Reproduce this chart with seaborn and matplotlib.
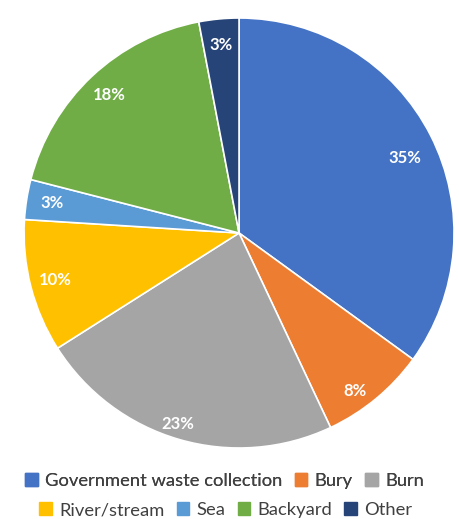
import seaborn as sns
import matplotlib.pyplot as plt
from matplotlib.patches import Patch

categories = ["Government waste collection", "Bury", "Burn", "River/stream", "Sea", "Backyard", "Other"]
values = [35, 8, 23, 10, 3, 18, 3]
colors = ["#4472C4", "#ED7D31", "#A5A5A5", "#FFC000", "#5B9BD5", "#70AD47", "#264478"]

sns.set_style("white")
plt.rcParams['font.family'] = ['Lato', 'DejaVu Sans']

fig = plt.figure(figsize=(4.59, 5.19), dpi=100)
ax = fig.add_axes([0.0523, 0.1368, 0.937, 0.8285])

wedges, texts, autotexts = ax.pie(values, colors=colors, startangle=90, counterclock=False,
                                  autopct='%d%%', pctdistance=0.88,
                                  wedgeprops=dict(edgecolor='white', linewidth=1.2))
for t in autotexts:
    t.set_color('white')
    t.set_fontweight('bold')
    t.set_fontsize(12)
# a few labels sit where Excel's best fit put them
autotexts[0].set_position((0.77, 0.35))
autotexts[1].set_position((0.54, -0.735))
autotexts[2].set_position((-0.284, -0.888))
ax.set_xlim(-1, 1)
ax.set_ylim(-1, 1)
ax.set_aspect('equal')

# legend in two rows like the original
h1 = [Patch(color=c) for c in colors[:3]]
h2 = [Patch(color=c) for c in colors[3:]]
leg1 = fig.legend(h1, categories[:3], loc='center', bbox_to_anchor=(0.489, 0.073), ncol=3,
                  frameon=False, fontsize=13.2, handlelength=0.7, handleheight=0.7,
                  handletextpad=0.4, columnspacing=0.65, labelcolor='#404040')
leg2 = fig.legend(h2, categories[3:], loc='center', bbox_to_anchor=(0.492, 0.017), ncol=4,
                  frameon=False, fontsize=13.2, handlelength=0.7, handleheight=0.7,
                  handletextpad=0.4, columnspacing=0.65, labelcolor='#404040')
fig.add_artist(leg1)

fig.savefig('out.png', dpi=100)
